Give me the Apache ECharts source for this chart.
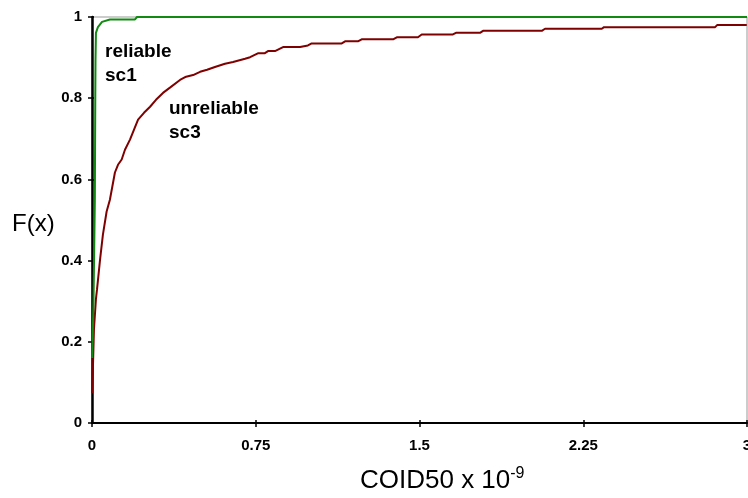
<!DOCTYPE html>
<html><head><meta charset="utf-8">
<script src="https://cdn.jsdelivr.net/npm/echarts@6/dist/echarts.min.js"></script>
<style>html,body{margin:0;padding:0;background:#fff}#c{width:748px;height:498px}</style>
</head><body><div id="c"></div>
<script>
// Data
var xTicks = [0, 0.75, 1.5, 2.25, 3];
var yTicks = [0, 0.2, 0.4, 0.6, 0.8, 1];

var sc1X = [0.001, 0.007, 0.013, 0.015, 0.016, 0.018, 0.027, 0.046, 0.082, 0.197, 0.206, 3.0];
var sc1Y = [0.160, 0.305, 0.550, 0.800, 0.894, 0.961, 0.975, 0.988, 0.994, 0.994, 1.0, 1.0];

var sc3X = [0.001, 0.009, 0.018, 0.023, 0.037, 0.050, 0.067, 0.082, 0.105, 0.119, 0.136, 0.151, 0.174, 0.192, 0.211,
  0.238, 0.266, 0.293, 0.325, 0.357, 0.403, 0.431, 0.463, 0.495, 0.527, 0.563, 0.609, 0.646, 0.701, 0.724,
  0.762, 0.792, 0.806, 0.838, 0.875, 0.953, 0.960, 0.989, 1.006, 1.144, 1.159, 1.218, 1.235, 1.379, 1.396,
  1.493, 1.510, 1.653, 1.667, 1.777, 1.791, 2.060, 2.075, 2.335, 2.345, 2.854, 2.863, 2.999];
var sc3Y = [0.074, 0.231, 0.305, 0.329, 0.403, 0.464, 0.521, 0.550, 0.617, 0.636, 0.649, 0.673, 0.698, 0.722, 0.747,
  0.764, 0.779, 0.796, 0.813, 0.826, 0.845, 0.853, 0.857, 0.865, 0.870, 0.877, 0.885, 0.889, 0.897, 0.901,
  0.911, 0.911, 0.916, 0.916, 0.926, 0.926, 0.930, 0.930, 0.935, 0.935, 0.940, 0.940, 0.945, 0.945, 0.950,
  0.950, 0.957, 0.957, 0.961, 0.961, 0.966, 0.966, 0.971, 0.971, 0.975, 0.975, 0.980, 0.980];

function pairs(xs, ys) { return xs.map(function (x, i) { return [x, ys[i]]; }); }

var font = 'Arial, "Liberation Sans", sans-serif';
var chart = echarts.init(document.getElementById('c'));
var tickLabel = { color: '#000', fontWeight: 'bold', fontSize: 15, fontFamily: font };

chart.setOption({
  animation: false,
  grid: { left: 92, right: 1, top: 17, bottom: 75, containLabel: false, outerBoundsMode: 'none',
          show: true, borderColor: '#999', borderWidth: 1, backgroundColor: 'transparent' },
  xAxis: [{
    type: 'value', min: xTicks[0], max: xTicks[xTicks.length - 1], interval: 0.75,
    axisLine: { show: true, onZero: false, lineStyle: { color: '#000', width: 2 } },
    axisTick: { show: true, length: 4, lineStyle: { color: '#000', width: 1.5 } },
    axisLabel: Object.assign({ margin: 15, hideOverlap: false, showMaxLabel: true, formatter: function (v) { return String(v); } }, tickLabel),
    splitLine: { show: false }
  }, {
    type: 'value', position: 'bottom', min: 0, max: 3, interval: 0.75,
    axisLine: { show: false }, axisLabel: { show: false }, splitLine: { show: false },
    axisTick: { show: true, inside: true, length: 3, lineStyle: { color: '#000', width: 1.5 } }
  }],
  yAxis: [{
    type: 'value', min: yTicks[0], max: yTicks[yTicks.length - 1], interval: 0.2,
    axisLine: { show: true, onZero: false, lineStyle: { color: '#000', width: 2.5 } },
    axisTick: { show: true, length: 4, lineStyle: { color: '#000', width: 1.5 } },
    axisLabel: Object.assign({ margin: 10, formatter: function (v) { return String(v); } }, tickLabel),
    splitLine: { show: false }
  }, {
    type: 'value', position: 'left', min: 0, max: 1, interval: 0.2,
    axisLine: { show: false }, axisLabel: { show: false }, splitLine: { show: false },
    axisTick: { show: true, inside: true, length: 2, lineStyle: { color: '#000', width: 1.5 } }
  }],
  series: [{
    name: 'reliable sc1', type: 'line', data: pairs(sc1X, sc1Y), showSymbol: false, symbol: 'none',
    lineStyle: { color: '#118a11', width: 2 }, z: 3
  }, {
    name: 'unreliable sc3', type: 'line', data: pairs(sc3X, sc3Y), showSymbol: false, symbol: 'none',
    lineStyle: { color: '#7f0000', width: 2 }, z: 2
  }],
  graphic: [
    { type: 'text', left: 105, top: 40, style: { text: 'reliable\nsc1', font: 'bold 19px ' + font, fill: '#000', lineHeight: 24 } },
    { type: 'text', left: 169, top: 97, style: { text: 'unreliable\nsc3', font: 'bold 19px ' + font, fill: '#000', lineHeight: 24 } },
    { type: 'text', left: 12, top: 212, style: { text: 'F(x)', font: '24px ' + font, fill: '#000' } },
    { type: 'text', left: 360, top: 466, style: {
        rich: { a: { font: '26px ' + font, fill: '#000' }, s: { font: '16px ' + font, fill: '#000', verticalAlign: 'top', padding: [0, 0, 14, 0] } },
        text: '{a|COID50 x 10}{s|-9}' } }
  ]
});
</script></body></html>
